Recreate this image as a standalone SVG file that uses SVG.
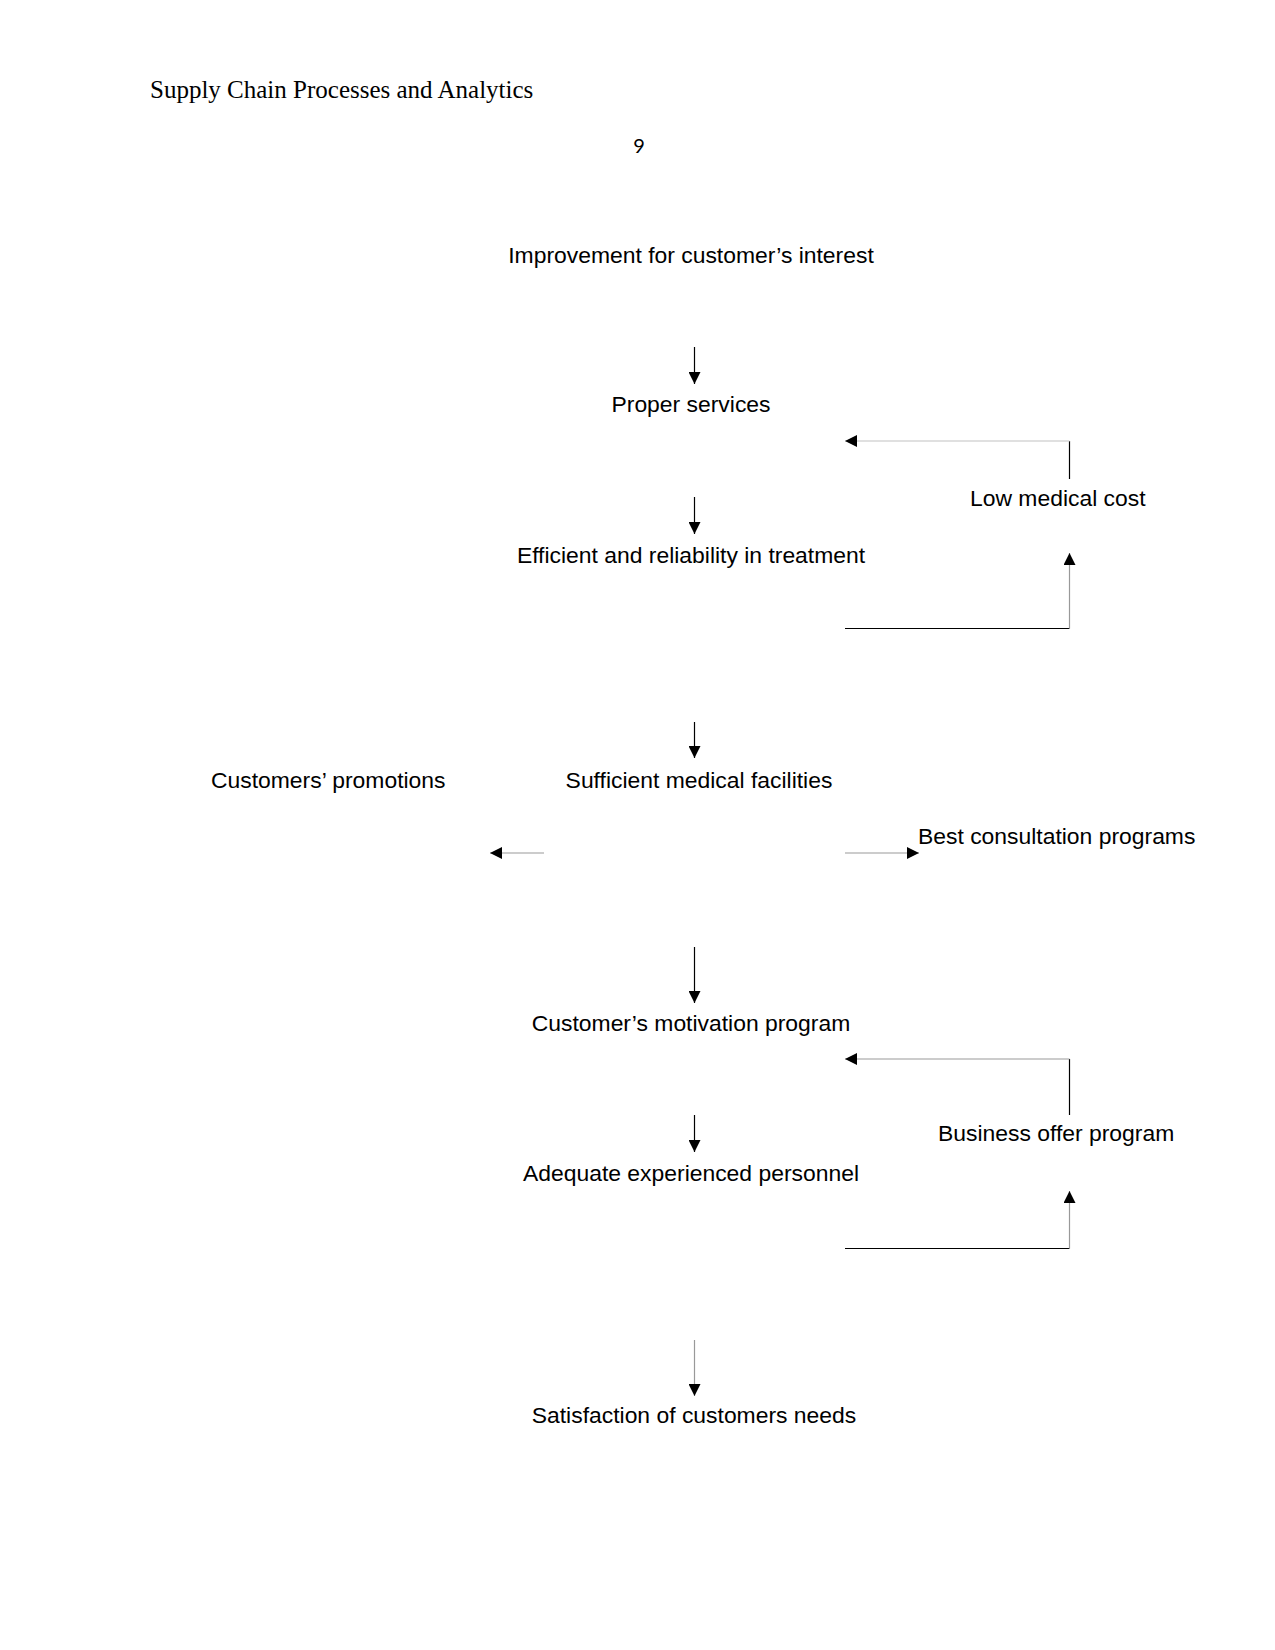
<svg xmlns="http://www.w3.org/2000/svg" width="1275" height="1650" viewBox="0 0 1275 1650">
<defs>
<marker id="ah" markerWidth="12" markerHeight="12" refX="12" refY="6" orient="auto" markerUnits="userSpaceOnUse">
<path d="M0,0 L12,6 L0,12 Z" fill="#000"/>
</marker>
<style>
.lbl{font-family:"Liberation Sans",Arial,sans-serif;font-size:22.9px;fill:#000}
.hdr{font-family:"Liberation Serif","Times New Roman",serif;font-size:25px;fill:#000}
.pg{font-family:Lato,"Open Sans",sans-serif;font-size:20px;fill:#000}
.c{fill:none;stroke:#000;stroke-width:1.2}
.g{fill:none;stroke:#999;stroke-width:1.2}
.lg{fill:none;stroke:#d6d6d6;stroke-width:1.5}
</style>
</defs>
<rect width="1275" height="1650" fill="#fff"/>
<text class="hdr" x="150" y="98">Supply Chain Processes and Analytics</text>
<text class="pg" x="639" y="153" text-anchor="middle">9</text>

<g transform="translate(1,0)">
<g id="n1"><text class="lbl" x="690" y="263" text-anchor="middle">Improvement for customer’s interest</text></g>
<g id="n2"><text class="lbl" x="690" y="412" text-anchor="middle">Proper services</text></g>
<g id="n3"><text class="lbl" x="969" y="506">Low medical cost</text></g>
<g id="n4"><text class="lbl" x="690" y="563" text-anchor="middle">Efficient and reliability in treatment</text></g>
<g id="n5"><text class="lbl" x="210" y="788">Customers’ promotions</text></g>
<g id="n6"><text class="lbl" x="698" y="788" text-anchor="middle">Sufficient medical facilities</text></g>
<g id="n7"><text class="lbl" x="917" y="844">Best consultation programs</text></g>
<g id="n8"><text class="lbl" x="690" y="1031" text-anchor="middle">Customer’s motivation program</text></g>
<g id="n9"><text class="lbl" x="937" y="1141">Business offer program</text></g>
<g id="n10"><text class="lbl" x="690" y="1181" text-anchor="middle">Adequate experienced personnel</text></g>
<g id="n11"><text class="lbl" x="693" y="1423" text-anchor="middle">Satisfaction of customers needs</text></g>

<g id="connectors">
<line class="c" x1="693.5" y1="347" x2="693.5" y2="384" marker-end="url(#ah)"/>
<line class="c" x1="693.5" y1="497" x2="693.5" y2="534" marker-end="url(#ah)"/>
<line class="c" x1="693.5" y1="722" x2="693.5" y2="758" marker-end="url(#ah)"/>
<line class="c" x1="693.5" y1="947" x2="693.5" y2="1003" marker-end="url(#ah)"/>
<line class="c" x1="693.5" y1="1115" x2="693.5" y2="1152" marker-end="url(#ah)"/>
<line class="g" x1="693.5" y1="1340" x2="693.5" y2="1396" marker-end="url(#ah)"/>

<line class="c" x1="1068.5" y1="479" x2="1068.5" y2="441"/>
<line class="lg" x1="1068.5" y1="441" x2="844" y2="441" marker-end="url(#ah)"/>
<line class="c" x1="844" y1="628.5" x2="1068.5" y2="628.5"/>
<line class="g" x1="1068.5" y1="628.5" x2="1068.5" y2="553" marker-end="url(#ah)"/>

<line class="g" x1="543" y1="853" x2="489" y2="853" marker-end="url(#ah)"/>
<line class="g" x1="844" y1="853" x2="918" y2="853" marker-end="url(#ah)"/>

<line class="c" x1="1068.5" y1="1115" x2="1068.5" y2="1059"/>
<line class="g" x1="1068.5" y1="1059" x2="844" y2="1059" marker-end="url(#ah)"/>
<line class="c" x1="844" y1="1248.5" x2="1068.5" y2="1248.5"/>
<line class="g" x1="1068.5" y1="1248.5" x2="1068.5" y2="1191" marker-end="url(#ah)"/>
</g>
</g>
</svg>
